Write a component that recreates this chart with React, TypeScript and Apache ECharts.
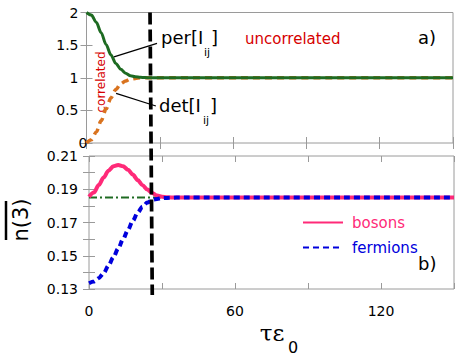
import React, { useEffect, useRef } from "react";
import * as echarts from "echarts";

// ---- data ----
const timeTop = [0, 2, 4, 6, 8, 10, 12, 14, 16, 18, 20, 22, 24, 26, 150];
const perValues = [2, 1.96, 1.85, 1.69, 1.51, 1.35, 1.22, 1.13, 1.07, 1.03, 1.016, 1.006, 1.002, 1, 1];
const detValues = [0, 0.05, 0.17, 0.34, 0.52, 0.69, 0.82, 0.91, 0.95, 0.98, 0.99, 1.0, 1.0, 1.0, 1.0];

const timeBottom = [0, 2, 4, 6, 8, 10, 12, 14, 16, 18, 20, 22, 24, 26, 28, 30, 32, 36, 40, 150];
const bosonValues = [0.1855, 0.188, 0.1925, 0.197, 0.2012, 0.2038, 0.2046, 0.2038, 0.2018, 0.1988, 0.1955, 0.1924, 0.1898, 0.1877, 0.1862, 0.1855, 0.1852, 0.185, 0.185, 0.185];
const fermionValues = [0.1335, 0.1345, 0.1365, 0.1395, 0.144, 0.149, 0.1543, 0.16, 0.1655, 0.171, 0.176, 0.1795, 0.182, 0.1835, 0.1842, 0.1846, 0.1848, 0.185, 0.185, 0.185];

const referenceTimes = [0, 150];
const referenceLevel = 0.185;
const criticalTime = 26;

// pointer segments (data coords) from labels to curves
const perPointer = [[11.25, 1.32], [28.85, 1.525]];
const detPointer = [[12.1, 0.76], [28.4, 0.567]];

const topTicks = { min: 0, max: 2, interval: 0.5 };
const bottomTicks = { min: 0.13, max: 0.21, interval: 0.01 };
const timeTicks = { min: 0, max: 150, interval: 30 };

const GREEN = "#1e6b22";
const ORANGE = "#d9731f";
const PINK = "#ff2a78";
const BLUE = "#0000dc";
const RED = "#d60000";
const FRAME = "#9a9a9a";
const FONT = "DejaVu Sans";

const tickStyle = { inside: true, length: 6, lineStyle: { color: FRAME, width: 1 } };

function xAxis(gridIndex: number, position: string, showLabel: boolean) {
  return {
    type: "value",
    gridIndex,
    position,
    ...timeTicks,
    axisLine: { show: false },
    axisTick: tickStyle,
    splitLine: { show: false },
    axisLabel: {
      show: showLabel,
      margin: 15,
      fontSize: 14,
      fontFamily: FONT,
      color: "#000",
      formatter: (v: number) => (v % 60 === 0 && v < 150 ? String(v) : ""),
    },
  };
}

export default function App() {
  const ref = useRef<HTMLDivElement>(null);
  useEffect(() => {
    if (!ref.current) return;
    const chart = echarts.init(ref.current, undefined, { renderer: "svg" });
    const textStyle = (text: string, size: number, color = "#000", family = FONT) => ({
      text,
      fill: color,
      fontSize: size,
      fontFamily: family,
      align: "left",
      verticalAlign: "middle",
    });
    const graphics: any[] = [
      { id: "a", type: "text", x: 418, y: 37, style: textStyle("a)", 18) },
      { id: "b", type: "text", x: 418, y: 263, style: textStyle("b)", 18) },
      { id: "per", type: "text", x: 161, y: 37, style: textStyle("per[I", 18) },
      { id: "perij", type: "text", x: 204, y: 52, style: textStyle("ij", 11) },
      { id: "perb", type: "text", x: 211, y: 37, style: textStyle("]", 18) },
      { id: "det", type: "text", x: 159, y: 105, style: textStyle("det[I", 18) },
      { id: "detij", type: "text", x: 203, y: 120, style: textStyle("ij", 11) },
      { id: "detb", type: "text", x: 210, y: 105, style: textStyle("]", 18) },
      { id: "unc", type: "text", x: 245, y: 39, style: textStyle("uncorrelated", 15, RED) },
      {
        id: "cor",
        type: "text",
        x: 101,
        y: 82,
        rotation: Math.PI / 2,
        style: { ...textStyle("correlated", 12, RED), align: "center" },
      },
      {
        id: "ylab",
        type: "text",
        x: 21,
        y: 220,
        rotation: Math.PI / 2,
        style: { ...textStyle("n(3)", 21), align: "center" },
      },
      {
        id: "ybar",
        type: "line",
        shape: { x1: 6, y1: 201, x2: 6, y2: 240 },
        style: { stroke: "#000", lineWidth: 2.5 },
      },
      {
        id: "xlab",
        type: "text",
        x: 272,
        y: 333,
        style: { ...textStyle("τε", 23, "#000", "DejaVu Serif"), align: "center" },
      },
      {
        id: "xsub",
        type: "text",
        x: 293,
        y: 347,
        style: { ...textStyle("0", 16), align: "center" },
      },
    ];

    const option: any = {
      animation: false,
      grid: [
        { left: 86.5, top: 12.5, width: 366.5, height: 130.5, show: true, borderColor: FRAME, borderWidth: 1 },
        { left: 89, top: 156, width: 365, height: 133, show: true, borderColor: FRAME, borderWidth: 1 },
      ],
      xAxis: [xAxis(0, "bottom", false), xAxis(0, "top", false), xAxis(1, "bottom", true), xAxis(1, "top", false)],
      yAxis: [
        {
          type: "value",
          gridIndex: 0,
          position: "left",
          ...topTicks,
          axisLine: { show: false },
          axisTick: tickStyle,
          splitLine: { show: false },
          axisLabel: {
            margin: 8,
            fontSize: 14,
            lineHeight: 11,
            fontFamily: FONT,
            color: "#000",
            alignMinLabel: "bottom",
          },
        },
        {
          type: "value",
          gridIndex: 0,
          position: "right",
          ...topTicks,
          axisLine: { show: false },
          axisTick: tickStyle,
          splitLine: { show: false },
          axisLabel: { show: false },
        },
        {
          type: "value",
          gridIndex: 1,
          position: "left",
          ...bottomTicks,
          axisLine: { show: false },
          axisTick: tickStyle,
          splitLine: { show: false },
          axisLabel: {
            margin: 11,
            fontSize: 14,
            lineHeight: 11,
            fontFamily: FONT,
            color: "#000",
            formatter: (v: number) => {
              const k = Math.round(v * 100);
              return k % 2 === 1 ? (k / 100).toFixed(2) : "";
            },
          },
        },
        {
          type: "value",
          gridIndex: 1,
          position: "right",
          ...bottomTicks,
          axisLine: { show: false },
          axisTick: tickStyle,
          splitLine: { show: false },
          axisLabel: { show: false },
        },
      ],
      legend: {
        data: [
          { name: "bosons", textStyle: { color: PINK } },
          { name: "fermions", textStyle: { color: BLUE } },
        ],
        orient: "vertical",
        left: 297,
        top: 210,
        itemWidth: 40,
        itemHeight: 14,
        itemGap: 10,
        itemStyle: { color: "rgba(0,0,0,0)", borderColor: "rgba(0,0,0,0)", borderWidth: 0, opacity: 0 },
        textStyle: { fontSize: 15, fontFamily: FONT, padding: [0, 0, 0, 4] },
      },
      series: [
        {
          name: "per",
          type: "line",
          xAxisIndex: 0,
          yAxisIndex: 0,
          data: timeTop.map((t, i) => [t, perValues[i]]),
          symbol: "none",
          smooth: 0.3,
          smoothMonotone: "x",
          lineStyle: { color: GREEN, width: 3 },
          z: 3,
          markLine: {
            silent: true,
            symbol: "none",
            label: { show: false },
            lineStyle: { color: "#000", width: 1.3, type: "solid" },
            data: [
              [{ coord: perPointer[0] }, { coord: perPointer[1] }],
              [{ coord: detPointer[0] }, { coord: detPointer[1] }],
            ],
          },
        },
        {
          name: "det",
          type: "line",
          xAxisIndex: 0,
          yAxisIndex: 0,
          data: timeTop.map((t, i) => [t, detValues[i]]),
          symbol: "none",
          smooth: 0.3,
          smoothMonotone: "x",
          lineStyle: { color: ORANGE, width: 3.5, type: [7, 5] },
          z: 2,
        },
        {
          name: "uncorrelated level",
          type: "line",
          xAxisIndex: 2,
          yAxisIndex: 2,
          data: referenceTimes.map((t) => [t, referenceLevel]),
          symbol: "none",
          lineStyle: { color: GREEN, width: 2, type: [8, 3, 2, 3] },
          z: 2,
        },
        {
          name: "bosons",
          type: "line",
          xAxisIndex: 2,
          yAxisIndex: 2,
          data: timeBottom.map((t, i) => [t, bosonValues[i]]),
          symbol: "none",
          smooth: 0.3,
          smoothMonotone: "x",
          itemStyle: { color: PINK },
          lineStyle: { color: PINK, width: 4 },
          z: 3,
        },
        {
          name: "fermions",
          type: "line",
          xAxisIndex: 2,
          yAxisIndex: 2,
          data: timeBottom.map((t, i) => [t, fermionValues[i]]),
          symbol: "none",
          smooth: 0.3,
          smoothMonotone: "x",
          itemStyle: { color: BLUE },
          lineStyle: { color: BLUE, width: 4, type: [6, 4] },
          z: 4,
        },
      ],
      graphic: graphics,
    };
    chart.setOption(option);

    const topPt = chart.convertToPixel({ gridIndex: 0 }, [criticalTime, topTicks.max]) as number[];
    const botPt = chart.convertToPixel({ gridIndex: 1 }, [criticalTime, bottomTicks.min]) as number[];
    if (topPt && botPt) {
      chart.setOption({
        graphic: [
          ...graphics,
          {
            id: "crit",
            type: "line",
            z: 100,
            shape: { x1: topPt[0], y1: topPt[1], x2: botPt[0], y2: botPt[1] + 6 },
            style: { stroke: "#000", lineWidth: 3.7, lineDash: [12, 5] },
          },
        ],
      });
    }
    return () => chart.dispose();
  }, []);
  return <div ref={ref} style={{ width: 463, height: 355, position: "absolute", left: 0, top: 0 }} />;
}
